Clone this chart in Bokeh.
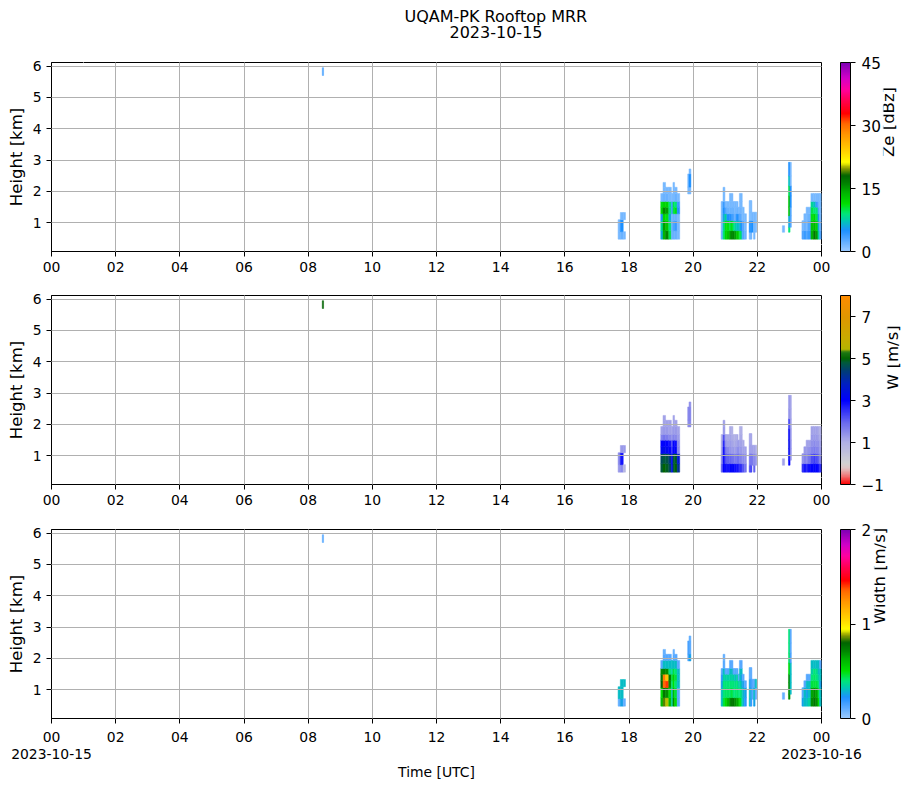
import math
import numpy as np
from bokeh.plotting import figure
from bokeh.layouts import column
from bokeh.models import (ColumnDataSource, FixedTicker, Range1d, LinearColorMapper,
                          ColorBar, LinearAxis, Title)
from bokeh.transform import linear_cmap
from bokeh.embed import file_html
from bokeh.resources import INLINE

N = None

# ---------------- texts / ticks ----------------
TITLE = "UQAM-PK Rooftop MRR"
TITLE_DATE = "2023-10-15"
START_DATE = "2023-10-15"
END_DATE = "2023-10-16"
X_LABEL = "Time [UTC]"
Y_LABEL = "Height [km]"
HOUR_TICKS = [0, 2, 4, 6, 8, 10, 12, 14, 16, 18, 20, 22, 24]
HOUR_LABELS = ["00", "02", "04", "06", "08", "10", "12", "14", "16", "18", "20", "22", "00"]
HEIGHT_TICKS = [1, 2, 3, 4, 5, 6]
HEIGHT_RANGE = (0.086, 6.115)

ZE_LABEL, ZE_RANGE, ZE_TICKS = "Ze [dBz]", (0, 45), [0, 15, 30, 45]
W_LABEL, W_RANGE, W_TICKS = "W [m/s]", (-1, 8), [-1, 1, 3, 5, 7]
SW_LABEL, SW_RANGE, SW_TICKS = "Width [m/s]", (0, 2), [0, 1, 2]

# colour map stops: (fraction of range, colour)
RAINBOW_STOPS = [
    (0.00, "#9ccbff"), (0.06, "#56a8ff"), (0.11, "#1e90ff"), (0.16, "#00c8b4"),
    (0.20, "#00e676"), (0.25, "#00e000"), (0.31, "#00b400"), (0.36, "#008200"),
    (0.40, "#006400"), (0.44, "#8c9b00"), (0.47, "#ffff00"), (0.53, "#ffd200"),
    (0.62, "#ff9600"), (0.68, "#ff6400"), (0.73, "#ff0000"), (0.80, "#ff0050"),
    (0.86, "#ff00a0"), (0.92, "#d200c8"), (1.00, "#7d00b4"),
]
# doppler velocity colour stops: (m/s, colour)
W_STOPS = [
    (-1.0, "#ff0000"), (-0.6, "#f07878"), (-0.25, "#e0c4c4"), (0.0, "#d2d2d2"),
    (1.0, "#b0b0e6"), (2.0, "#6464f0"), (3.0, "#0000ff"), (3.8, "#0020c0"),
    (4.4, "#003c78"), (4.8, "#005a3c"), (5.0, "#006400"), (5.3, "#1e7814"),
    (5.45, "#b4b400"), (6.0, "#c8aa00"), (7.0, "#e09600"), (8.0, "#ff8c00"),
]

# ---------------- data (time edges [h], height edges [km], values per column bottom->top) ----------------
# isolated echo ~08:28
blip_t = [8.44, 8.48]
blip_h = [5.70, 5.95]
blip_ze = [[3.0]]
blip_w = [[5.0]]
blip_sw = [[0.12]]

# ~17:40
a_t = [17.66, 17.73, 17.82, 17.89]
a_h = [0.48, 0.72, 1.10, 1.33]
a_ze = [[1.5, 1.5, N], [2, 5, 1.5], [1.5, N, 1.5]]
a_w = [[1.3, 1.5, N], [1.5, 2.8, 1.3], [0.8, N, 1.3]]
a_sw = [[0.1, 0.3, N], [0.25, 0.3, 0.3], [0.1, N, 0.3]]

# 19:00 - 19:35
b_t = [18.99, 19.06, 19.14, 19.24, 19.32, 19.37, 19.42, 19.50, 19.58]
b_h = [0.48, 0.75, 1.07, 1.29, 1.50, 1.68, 1.94, 2.135, 2.29]
b_ze = [
    [6, 8, 5, 12, 11, 1.5],
    [14, 15, 12, 16, 12, 2, 1.5, 1.5],
    [16, 13, 11, 15, 12, 2, 1.5],
    [10, 9, 6, 9, 9, 1.5, 1.5],
    [2, 2, 1.5, 4, 4, 1.5],
    [2, 3, 2, 10, 10, 1.5, 1.5, 1.5],
    [2, 4, 2, 11, 9, 2, 1.5],
    [1.5, 1.5, 1.5, 5, 4, 1.5],
]
b_w = [
    [4.8, 4.6, 3.2, 3.0, 1.6, 1.2],
    [5.0, 4.8, 3.3, 3.1, 1.8, 1.3, 1.2, 1.2],
    [4.9, 4.7, 3.2, 3.0, 1.7, 1.3, 1.2],
    [4.6, 4.4, 3.0, 2.8, 1.5, 1.2, 1.2],
    [3.2, 3.0, 2.5, 2.2, 1.4, 1.2],
    [4.7, 4.8, 3.0, 3.0, 1.6, 1.3, 1.2, 1.2],
    [5.0, 4.9, 3.1, 2.9, 1.5, 1.3, 1.2],
    [4.2, 3.6, 1.6, 1.5, 1.3, 1.2],
]
b_sw = [
    [0.6, 0.5, 0.8, 0.75, 0.7, 0.12],
    [0.85, 0.75, 1.35, 1.3, 0.72, 0.3, 0.12, 0.1],
    [0.9, 0.7, 1.4, 1.1, 0.7, 0.3, 0.12],
    [0.6, 0.5, 0.7, 0.75, 0.4, 0.3, 0.12],
    [0.35, 0.3, 0.4, 0.45, 0.35, 0.3],
    [0.7, 0.6, 0.5, 0.55, 0.45, 0.3, 0.12, 0.1],
    [0.5, 0.45, 0.4, 0.45, 0.4, 0.3, 0.12],
    [0.12, 0.12, 0.3, 0.3, 0.3, 0.12],
]

# ~19:52 elevated echo
f_t = [19.83, 19.87, 19.93]
f_h = [1.92, 2.14, 2.56, 2.72]
f_ze = [[1.5, 1.5], [1.5, 5, 1.5]]
f_w = [[1.4, 1.5], [1.5, 1.6, 1.4]]
f_sw = [[0.12, 0.15], [0.25, 0.12, 0.1]]

# 20:52 - 21:40
c_t = [20.87, 20.93, 20.99, 21.05, 21.13, 21.18, 21.24, 21.29, 21.34, 21.40, 21.44, 21.49, 21.53, 21.59, 21.66]
c_h = [0.48, 0.75, 1.07, 1.29, 1.50, 1.68, 1.94, 2.135]
c_ze = [
    [2, 1.5, 1.5, 1.5, 1.5],
    [9, 8, 6, 5, 4, 1.5, 1.5],
    [12, 11, 8, 3, 1.5],
    [13, 11, 5, 2, 1.5],
    [15, 10, 5, 2, 1.5, 1.5],
    [16, 11, 4, 2, 1.5, 1.5],
    [16, 9, 3, 2, 1.5],
    [15, 8, 2, 1.5, 1.5],
    [13, 7, 5, 2, 1.5],
    [12, 7, 4, 1.5],
    [10, 6, 3, 2, 1.5, 1.5],
    [8, 5, 2, 1.5, 1.5, 1.5],
    [3, 3, 1.5, 1.5],
    [2, 1.5, 1.5],
]
c_w = [
    [2.0, 1.5, 1.2, 1.1, 1.0],
    [3.0, 2.9, 2.8, 2.6, 2.2, 1.3, 1.2],
    [2.9, 2.2, 1.8, 1.4, 1.2],
    [2.8, 2.0, 1.5, 1.2, 1.1],
    [3.0, 2.0, 1.4, 1.3, 1.2, 1.1],
    [3.1, 1.9, 1.3, 1.2, 1.1, 1.0],
    [3.0, 1.8, 1.3, 1.1, 1.0],
    [2.9, 1.7, 1.2, 1.1, 1.0],
    [2.8, 1.8, 1.4, 1.2, 1.1],
    [2.7, 1.9, 1.5, 1.3],
    [2.6, 1.7, 1.3, 1.2, 1.1, 1.0],
    [2.5, 1.6, 1.3, 1.2, 1.1, 1.0],
    [2.2, 1.5, 1.2, 1.1],
    [1.8, 1.4, 1.2],
]
c_sw = [
    [0.3, 0.3, 0.25, 0.2, 0.12],
    [0.45, 0.4, 0.4, 0.35, 0.3, 0.12, 0.1],
    [0.5, 0.42, 0.4, 0.35, 0.12],
    [0.6, 0.42, 0.4, 0.35, 0.12],
    [0.7, 0.42, 0.4, 0.35, 0.3, 0.12],
    [0.75, 0.45, 0.4, 0.35, 0.3, 0.12],
    [0.75, 0.4, 0.4, 0.35, 0.12],
    [0.7, 0.4, 0.38, 0.3, 0.12],
    [0.65, 0.42, 0.4, 0.35, 0.12],
    [0.6, 0.4, 0.35, 0.12],
    [0.5, 0.4, 0.35, 0.3, 0.3, 0.12],
    [0.4, 0.38, 0.3, 0.25, 0.3, 0.12],
    [0.3, 0.3, 0.25, 0.12],
    [0.2, 0.25, 0.12],
]

# 21:45 - 22:00
d_t = [21.745, 21.79, 21.83, 21.88, 21.93, 21.98]
d_h = [0.48, 0.70, 1.07, 1.34, 1.71]
d_ze = [[1.5, 5, 1.5, 1.5], [2, 5, 1.5, 1.5], [N, 5, 1.5, N], [1.5, 1.5, 1.5, N], [N, 1.5, 1.5, N]]
d_w = [[2.2, 1.8, 1.3, 1.2], [2.4, 1.9, 1.3, 1.2], [N, 1.7, 1.2, N], [2.0, 1.5, 1.2, N], [N, 1.4, 1.1, N]]
d_sw = [[0.3, 0.3, 0.25, 0.12], [0.2, 0.25, 0.2, 0.12], [N, 0.12, 0.12, N], [0.25, 0.3, 0.12, N], [N, 0.12, 0.3, N]]

# ~22:48 small echo
e0_t = [22.78, 22.85]
e0_h = [0.70, 0.91]
e0_ze = [[1.5]]
e0_w = [[1.2]]
e0_sw = [[0.1]]

# ~23:00 narrow tall streak
e1_t = [22.97, 23.02, 23.06]
e1_h = [0.70, 0.86, 1.23, 1.50, 1.86, 2.18, 2.50, 2.93]
e1_ze = [[9, 6, 13, 13, 10, 7, 5], [N, 3, 3, 5, 5, 1.5, 1.5]]
e1_w = [[3.0, 3.1, 3.2, 3.1, 2.4, 1.4, 1.3], [N, 1.5, 1.5, 1.4, 1.3, 1.2, 1.2]]
e1_sw = [[0.7, 0.7, 0.7, 0.5, 0.42, 0.4, 0.4], [N, 0.3, 0.3, 0.3, 0.15, 0.12, 0.12]]

# 23:25 - 24:00
g_t = [23.39, 23.45, 23.52, 23.58, 23.67, 23.75, 23.82, 23.89, 23.94, 24.0]
g_h = [0.48, 0.75, 1.07, 1.29, 1.50, 1.68, 1.94]
g_ze = [
    [3, 1.5], [4, 2, 1.5], [3, 1.5, 1.5, 1.5], [4, 3, 2, 1.5],
    [14, 13, 11, 10, 8, 1.5], [17, 14, 12, 9, 7, 1.5], [15, 12, 10, 9, 4, 1.5],
    [8, 6, 5, 3, 2, 1.5], [3, 2, 1.5, 1.5, 1.5, 1.5],
]
g_w = [
    [2.5, 1.4], [2.8, 1.6, 1.3], [2.6, 1.5, 1.3, 1.2], [2.9, 1.8, 1.4, 1.2],
    [3.0, 2.2, 1.6, 1.4, 1.3, 1.2], [3.1, 2.4, 1.7, 1.5, 1.3, 1.2], [3.0, 2.2, 1.6, 1.4, 1.3, 1.2],
    [2.8, 2.0, 1.5, 1.4, 1.2, 1.1], [2.5, 1.6, 1.3, 1.2, 1.1, 1.0],
]
g_sw = [
    [0.25, 0.12], [0.3, 0.3, 0.12], [0.3, 0.25, 0.3, 0.12], [0.35, 0.3, 0.3, 0.12],
    [0.7, 0.65, 0.45, 0.4, 0.35, 0.3], [0.75, 0.7, 0.45, 0.42, 0.4, 0.3], [0.7, 0.65, 0.45, 0.4, 0.38, 0.3],
    [0.5, 0.45, 0.4, 0.35, 0.3, 0.3], [0.3, 0.3, 0.25, 0.3, 0.3, 0.12],
]

CLUSTERS = [
    (blip_t, blip_h, blip_ze, blip_w, blip_sw),
    (a_t, a_h, a_ze, a_w, a_sw),
    (b_t, b_h, b_ze, b_w, b_sw),
    (f_t, f_h, f_ze, f_w, f_sw),
    (c_t, c_h, c_ze, c_w, c_sw),
    (d_t, d_h, d_ze, d_w, d_sw),
    (e0_t, e0_h, e0_ze, e0_w, e0_sw),
    (e1_t, e1_h, e1_ze, e1_w, e1_sw),
    (g_t, g_h, g_ze, g_w, g_sw),
]


def build_cells():
    cols = {k: [] for k in ("t0", "t1", "h0", "h1", "ze", "w", "sw")}
    for times, heights, ze, w, sw in CLUSTERS:
        for i in range(len(times) - 1):
            for j in range(len(heights) - 1):
                z = ze[i][j] if j < len(ze[i]) else None
                if z is None:
                    continue
                cols["t0"].append(times[i])
                cols["t1"].append(times[i + 1])
                cols["h0"].append(heights[j])
                cols["h1"].append(heights[j + 1])
                cols["ze"].append(z)
                cols["w"].append(w[i][j])
                cols["sw"].append(sw[i][j])
    return cols


def make_palette(stops, lo, hi, n=256):
    pos = np.array([s[0] for s in stops], dtype=float)
    rgb = np.array([[int(c[1:3], 16), int(c[3:5], 16), int(c[5:7], 16)] for _, c in stops], dtype=float)
    xs = np.linspace(lo, hi, n)
    out = []
    for x in xs:
        r, g, b = (np.interp(x, pos, rgb[:, k]) for k in range(3))
        out.append("#%02x%02x%02x" % (int(round(r)), int(round(g)), int(round(b))))
    return out


RAINBOW = make_palette(RAINBOW_STOPS, 0.0, 1.0)
W_PAL = make_palette(W_STOPS, W_RANGE[0], W_RANGE[1])

# ---------------- layout constants ----------------
FONT = "DejaVu Sans"
FRAME_W = 771
FRAME_H = 189
LEFT = 51
RIGHT = 92
TOTAL_W = LEFT + FRAME_W + RIGHT

src = ColumnDataSource(build_cells())


def label_axis(text):
    ax = LinearAxis(ticker=FixedTicker(ticks=[]), major_tick_in=0, major_tick_out=0,
                    minor_tick_in=0, minor_tick_out=0,
                    major_tick_line_color=None, minor_tick_line_color=None, axis_line_color=None,
                    major_label_standoff=0)
    ax.axis_label = text
    return ax


def spacer_axis(length, tick):
    # an axis with a single white (invisible) tick, used only to reserve space
    return LinearAxis(ticker=FixedTicker(ticks=[tick]), major_tick_in=0, major_tick_out=length,
                      minor_tick_in=0, minor_tick_out=0,
                      major_tick_line_color="white", minor_tick_line_color=None,
                      axis_line_color=None, major_label_text_color=None,
                      major_label_text_font_size="0px", major_label_standoff=0,
                      major_label_overrides={tick: ""})


def make_panel(var, rng, palette, cb_ticks, cb_label, top, bottom, first=False, last=False,
               cb_overrides=None):
    lo, hi = rng
    p = figure(width=TOTAL_W, height=top + FRAME_H + bottom,
               x_range=Range1d(0, 24), y_range=Range1d(*HEIGHT_RANGE),
               output_backend="svg", toolbar_location=None, title=None,
               min_border_left=LEFT, min_border_right=RIGHT,
               min_border_top=top, min_border_bottom=bottom,
               background_fill_color="white", border_fill_color="white")
    p.outline_line_color = "black"
    p.outline_line_width = 1
    p.outline_line_alpha = 1

    cmap = linear_cmap(var, palette, lo, hi)
    p.quad(left="t0", right="t1", bottom="h0", top="h1", source=src,
           fill_color=cmap, line_color=cmap, line_width=0.5)

    # grid over the mesh
    p.xgrid.ticker = FixedTicker(ticks=HOUR_TICKS)
    p.ygrid.ticker = FixedTicker(ticks=HEIGHT_TICKS)
    p.grid.grid_line_color = "#b0b0b0"
    p.grid.grid_line_width = 1
    p.grid.level = "overlay"

    for ax in list(p.xaxis) + list(p.yaxis):
        ax.axis_line_color = "black"
        ax.major_tick_line_color = "black"
        ax.minor_tick_line_color = None
        ax.major_tick_in = 0
        ax.major_tick_out = 5
        ax.major_label_standoff = 5
        ax.major_label_text_font = FONT
        ax.major_label_text_font_size = "13.9px"
        ax.major_label_text_color = "black"
        ax.axis_label_text_font = FONT
        ax.axis_label_text_font_style = "normal"
        ax.axis_label_text_color = "black"

    xa = p.xaxis[0]
    xa.ticker = FixedTicker(ticks=HOUR_TICKS)
    overrides = {t: lab for t, lab in zip(HOUR_TICKS, HOUR_LABELS)}
    if last:
        overrides[HOUR_TICKS[0]] = HOUR_LABELS[0] + "\n" + START_DATE
        overrides[HOUR_TICKS[-1]] = HOUR_LABELS[-1] + "\n" + END_DATE
        xa.axis_label = X_LABEL
        xa.axis_label_text_font_size = "13.9px"
        xa.axis_label_standoff = -1
        try:
            xa.major_label_text_line_height = 1.1
        except Exception:
            pass
    xa.major_label_overrides = overrides

    ya = p.yaxis[0]
    ya.ticker = FixedTicker(ticks=HEIGHT_TICKS)
    ya.axis_label = Y_LABEL
    ya.axis_label_text_font_size = "16.5px"
    ya.axis_label_standoff = 4

    # colour bar on the right: gap, bar, rotated label
    p.add_layout(spacer_axis(19, 0.3), "right")
    cb = ColorBar(color_mapper=LinearColorMapper(palette=palette, low=lo, high=hi),
                  width=10, padding=0, margin=0,
                  ticker=FixedTicker(ticks=cb_ticks),
                  major_label_overrides=cb_overrides or {},
                  label_standoff=6, major_tick_in=0, major_tick_out=5,
                  major_tick_line_color="black", minor_tick_line_color=None,
                  bar_line_color="black", bar_line_width=1,
                  border_line_color=None, background_fill_color="white",
                  major_label_text_font=FONT, major_label_text_font_size="15.3px",
                  major_label_text_color="black")
    p.add_layout(cb, "right")
    lab = label_axis(cb_label)
    lab.axis_label_standoff = 5
    lab.axis_label_text_font = FONT
    lab.axis_label_text_font_size = "16.5px"
    lab.axis_label_text_font_style = "normal"
    lab.axis_label_text_color = "black"
    try:
        lab.axis_label_orientation = math.pi / 2
    except Exception:
        pass
    p.add_layout(lab, "right")

    if first:
        p.add_layout(spacer_axis(25, 1), "above")
        p.add_layout(Title(text=TITLE_DATE, align="left", offset=398, standoff=0,
                           text_font=FONT, text_font_size="16px", text_font_style="normal",
                           text_color="black"), "above")
        p.add_layout(Title(text=TITLE, align="left", offset=353, standoff=-4,
                           text_font=FONT, text_font_size="16px", text_font_style="normal",
                           text_color="black"), "above")
    return p


p1 = make_panel("ze", ZE_RANGE, RAINBOW, ZE_TICKS, ZE_LABEL, top=62, bottom=35, first=True)
p2 = make_panel("w", W_RANGE, W_PAL, W_TICKS, W_LABEL, top=9, bottom=35,
                cb_overrides={-1: "\u22121"})
p3 = make_panel("sw", SW_RANGE, RAINBOW, SW_TICKS, SW_LABEL, top=10, bottom=70, last=True)

layout = column(p1, p2, p3, spacing=0)
open("out.html", "w").write(file_html(layout, INLINE, title="UQAM-PK Rooftop MRR"))
